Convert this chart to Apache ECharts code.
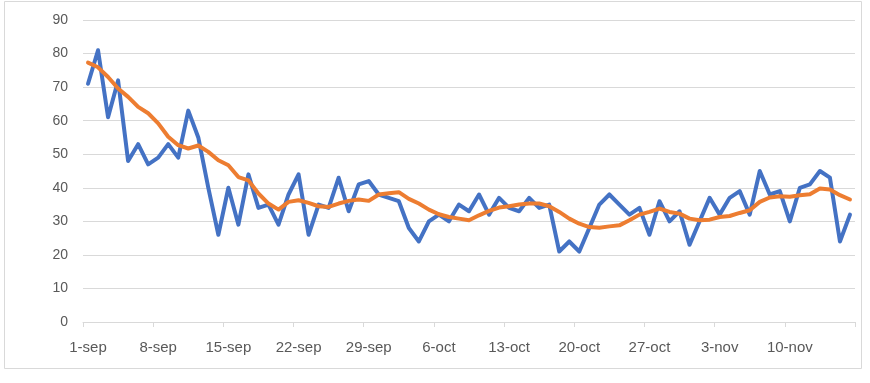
<!DOCTYPE html>
<html>
<head>
<meta charset="utf-8">
<script src="https://cdn.jsdelivr.net/npm/echarts@6/dist/echarts.min.js"></script>
<style>
html,body{margin:0;padding:0;background:#fff;}
#chart{width:870px;height:383px;}
</style>
</head>
<body>
<div id="chart"></div>
<script>
const categories = [
 '1-sep','2-sep','3-sep','4-sep','5-sep','6-sep','7-sep','8-sep','9-sep','10-sep',
 '11-sep','12-sep','13-sep','14-sep','15-sep','16-sep','17-sep','18-sep','19-sep','20-sep',
 '21-sep','22-sep','23-sep','24-sep','25-sep','26-sep','27-sep','28-sep','29-sep','30-sep',
 '1-oct','2-oct','3-oct','4-oct','5-oct','6-oct','7-oct','8-oct','9-oct','10-oct',
 '11-oct','12-oct','13-oct','14-oct','15-oct','16-oct','17-oct','18-oct','19-oct','20-oct',
 '21-oct','22-oct','23-oct','24-oct','25-oct','26-oct','27-oct','28-oct','29-oct','30-oct',
 '31-oct','1-nov','2-nov','3-nov','4-nov','5-nov','6-nov','7-nov','8-nov','9-nov',
 '10-nov','11-nov','12-nov','13-nov','14-nov','15-nov','16-nov'
];
const daily = [
 71,81,61,72,48,53,47,49,53,49,
 63,55,40,26,40,29,44,34,35,29,
 38,44,26,35,34,43,33,41,42,38,
 37,36,28,24,30,32,30,35,33,38,
 32,37,34,33,37,34,35,21,24,21,
 28,35,38,35,32,34,26,36,30,33,
 23,30,37,32,37,39,32,45,38,39,
 30,40,41,45,43,24,32
];
const average = [
 77.3,75.9,73.0,69.6,67.1,64.1,62.2,59.2,55.2,52.7,
 51.7,52.6,50.7,48.2,46.7,43.2,42.2,38.3,35.3,33.5,
 35.8,36.3,35.5,34.5,34.3,35.3,36.1,36.5,36.1,38.0,
 38.4,38.7,36.7,35.3,33.5,32.1,31.3,30.8,30.3,31.8,
 33.1,34.1,34.5,35.0,35.3,35.3,34.5,32.8,30.8,29.3,
 28.3,28.1,28.5,28.8,30.3,32.0,32.8,33.8,32.8,32.3,
 30.8,30.3,30.5,31.3,31.6,32.5,33.3,35.8,37.1,37.5,
 37.3,37.8,38.1,39.8,39.5,37.8,36.5
];
const yTicks = {min: 0, max: 90, interval: 10};

const chart = echarts.init(document.getElementById('chart'), null, {renderer: 'canvas'});
const font = 'Liberation Sans';
chart.setOption({
  animation: false,
  backgroundColor: '#ffffff',
  grid: {left: 83, right: 15, top: 20, bottom: 61, containLabel: false},
  graphic: [{
    type: 'rect',
    shape: {x: 4.5, y: 1.5, width: 857, height: 367},
    style: {fill: 'none', stroke: '#d9d9d9', lineWidth: 1},
    silent: true
  }],
  xAxis: {
    type: 'category',
    data: categories,
    boundaryGap: true,
    axisLine: {show: true, lineStyle: {color: '#d9d9d9', width: 1}},
    axisTick: {show: true, interval: 6, length: 5, alignWithLabel: false, lineStyle: {color: '#d9d9d9'}},
    axisLabel: {interval: 6, color: '#595959', fontFamily: font, fontSize: 15, margin: 18},
    splitLine: {show: false}
  },
  yAxis: {
    type: 'value',
    min: yTicks.min, max: yTicks.max, interval: yTicks.interval,
    axisLine: {show: false},
    axisTick: {show: false},
    axisLabel: {color: '#595959', fontFamily: font, fontSize: 14, margin: 15},
    splitLine: {lineStyle: {color: '#d9d9d9', width: 1}}
  },
  series: [
    {
      name: 'daily', type: 'line', data: daily,
      symbol: 'none', smooth: false,
      lineStyle: {color: '#4472c4', width: 4, join: 'round', cap: 'round'},
      itemStyle: {color: '#4472c4'}
    },
    {
      name: 'average', type: 'line', data: average,
      symbol: 'none', smooth: false,
      lineStyle: {color: '#ed7d31', width: 4, join: 'round', cap: 'round'},
      itemStyle: {color: '#ed7d31'}
    }
  ]
});
</script>
</body>
</html>
